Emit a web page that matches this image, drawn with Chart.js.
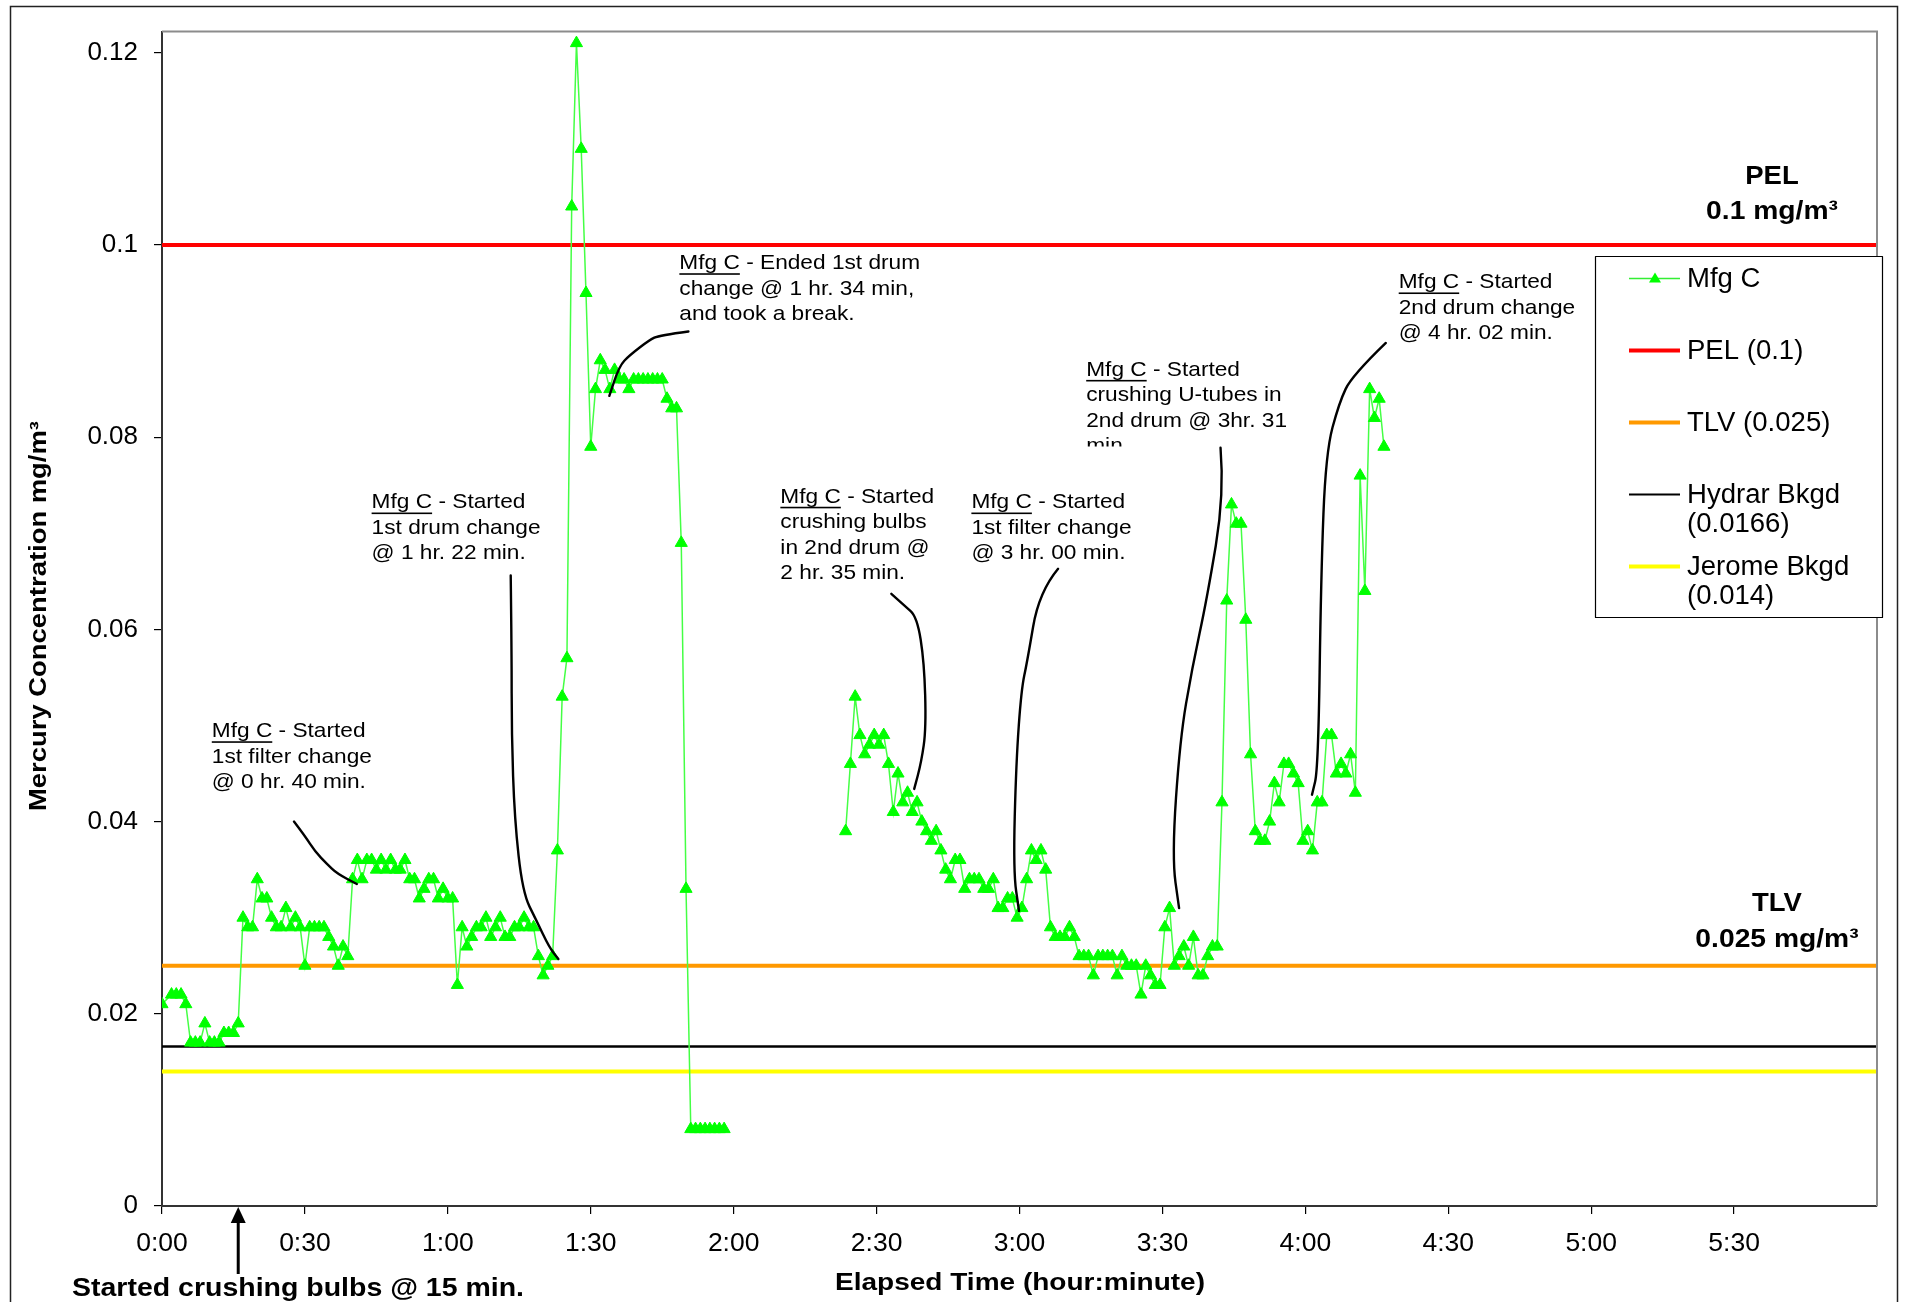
<!DOCTYPE html>
<html>
<head>
<meta charset="utf-8">
<title>Mercury Concentration – Mfg C</title>
<script src="https://cdn.jsdelivr.net/npm/chart.js@4.4.1/dist/chart.umd.min.js"></script>
<style>
  html, body { margin: 0; padding: 0; background: #ffffff; }
  canvas { display: block; }
</style>
</head>
<body>
<canvas id="chart" width="1913" height="1302"></canvas>
<script>
// ---- Data: elapsed time (minutes) and mercury concentration (mg/m3) ----
// First sampling run (0:00 – 1:58)
const run1Minutes = [0,2,3,4,5,6,7,8,9,10,11,12,13,14,15,16,17,18,19,20,
  21,22,23,24,25,26,27,28,29,30,31,32,33,34,35,36,37,38,39,40,
  41,42,43,44,45,46,47,48,49,50,51,52,53,54,55,56,57,58,59,60,
  61,62,63,64,65,66,67,68,69,70,71,72,73,74,75,76,77,78,79,80,
  81,82,83,84,85,86,87,88,89,90,91,92,93,94,95,96,97,98,99,100,
  101,102,103,104,105,106,107,108,109,110,111,112,113,114,115,116,117,118];
const run1Conc = [0.021,0.022,0.022,0.022,0.021,0.017,0.017,0.017,0.019,0.017,0.017,0.017,0.018,0.018,0.018,0.019,0.030,0.029,0.029,0.034,
  0.032,0.032,0.030,0.029,0.029,0.031,0.029,0.030,0.029,0.025,0.029,0.029,0.029,0.029,0.028,0.027,0.025,0.027,0.026,0.034,
  0.036,0.034,0.036,0.036,0.035,0.036,0.035,0.036,0.035,0.035,0.036,0.034,0.034,0.032,0.033,0.034,0.034,0.032,0.033,0.032,
  0.032,0.023,0.029,0.027,0.028,0.029,0.029,0.030,0.028,0.029,0.030,0.028,0.028,0.029,0.029,0.030,0.029,0.029,0.026,0.024,
  0.025,0.026,0.037,0.053,0.057,0.104,0.121,0.110,0.095,0.079,0.085,0.088,0.087,0.085,0.087,0.086,0.086,0.085,0.086,0.086,
  0.086,0.086,0.086,0.086,0.086,0.084,0.083,0.083,0.069,0.033,0.008,0.008,0.008,0.008,0.008,0.008,0.008,0.008];

// Second sampling run (2:23 – 4:16)
const run2Minutes = [143.5,144.5,145.5,146.5,147.5,148.5,149.5,150.5,151.5,152.5,153.5,154.5,155.5,156.5,157.5,158.5,159.5,160.5,161.5,162.5,
  163.5,164.5,165.5,166.5,167.5,168.5,169.5,170.5,171.5,172.5,173.5,174.5,175.5,176.5,177.5,178.5,179.5,180.5,181.5,182.5,
  183.5,184.5,185.5,186.5,187.5,188.5,189.5,190.5,191.5,192.5,193.5,194.5,195.5,196.5,197.5,198.5,199.5,200.5,201.5,202.5,
  203.5,204.5,205.5,206.5,207.5,208.5,209.5,210.5,211.5,212.5,213.5,214.5,215.5,216.5,217.5,218.5,219.5,220.5,221.5,222.5,
  223.5,224.5,225.5,226.5,227.5,228.5,229.5,230.5,231.5,232.5,233.5,234.5,235.5,236.5,237.5,238.5,239.5,240.5,241.5,242.5,
  243.5,244.5,245.5,246.5,247.5,248.5,249.5,250.5,251.5,252.5,253.5,254.5,255.5,256.5];
const run2Conc = [0.039,0.046,0.053,0.049,0.047,0.048,0.049,0.048,0.049,0.046,0.041,0.045,0.042,0.043,0.041,0.042,0.040,0.039,0.038,0.039,
  0.037,0.035,0.034,0.036,0.036,0.033,0.034,0.034,0.034,0.033,0.033,0.034,0.031,0.031,0.032,0.032,0.030,0.031,0.034,0.037,
  0.036,0.037,0.035,0.029,0.028,0.028,0.028,0.029,0.028,0.026,0.026,0.026,0.024,0.026,0.026,0.026,0.026,0.024,0.026,0.025,
  0.025,0.025,0.022,0.025,0.024,0.023,0.023,0.029,0.031,0.025,0.026,0.027,0.025,0.028,0.024,0.024,0.026,0.027,0.027,0.042,
  0.063,0.073,0.071,0.071,0.061,0.047,0.039,0.038,0.038,0.040,0.044,0.042,0.046,0.046,0.045,0.044,0.038,0.039,0.037,0.042,
  0.042,0.049,0.049,0.045,0.046,0.045,0.047,0.043,0.076,0.064,0.085,0.082,0.084,0.079];

// Exposure limits and background levels (mg/m3)
const limitNames  = ['PEL (0.1)', 'TLV (0.025)', 'Hydrar Bkgd (0.0166)', 'Jerome Bkgd (0.014)'];
const limitValues = [0.1, 0.025, 0.0166, 0.014];

// Axis ticks
const xTickMinutes = [0,30,60,90,120,150,180,210,240,270,300,330];
const xTickLabels  = ['0:00','0:30','1:00','1:30','2:00','2:30','3:00','3:30','4:00','4:30','5:00','5:30'];
const yTickValues  = [0,0.02,0.04,0.06,0.08,0.1,0.12];
const yTickLabels  = ['0','0.02','0.04','0.06','0.08','0.1','0.12'];

// Event call-outs: anchor (minutes, mg/m3) of the first text line, text, leader path
const callouts = [
  { at:[10.45,0.0494], head:' - Started', lines:['1st filter change','@ 0 hr. 40 min.'],
    leader:[[27.7,0.0400],[30.0,0.0385],[32.1,0.0369],[34.6,0.0356],[36.7,0.0346],[40.9,0.0335]] },
  { at:[44.0,0.0732], head:' - Started', lines:['1st drum change','@ 1 hr. 22 min.'],
    leader:[[73.2,0.0656],[73.4,0.0576],[73.4,0.0491],[74.0,0.0403],[75.7,0.0326],[78.6,0.0297],[81.3,0.0269],[83.2,0.0257]] },
  { at:[108.6,0.0981], head:' - Ended 1st drum', lines:['change @ 1 hr. 34 min,','and took a break.'],
    leader:[[110.5,0.0910],[104.4,0.0906],[102.3,0.0901],[98.1,0.0885],[96.0,0.0874],[93.9,0.0843]] },
  { at:[129.8,0.0738], head:' - Started', lines:['crushing bulbs','in 2nd drum @','2 hr. 35 min.'],
    leader:[[153.1,0.0637],[155.8,0.0625],[158.5,0.0613],[160.0,0.0566],[160.4,0.0497],[159.4,0.0462],[157.9,0.0434]] },
  { at:[169.9,0.0732], head:' - Started', lines:['1st filter change','@ 3 hr. 00 min.'],
    leader:[[188.1,0.0663],[184.1,0.0639],[181.6,0.0566],[180.4,0.0538],[179.3,0.0462],[178.7,0.0348],[179.9,0.0307]] },
  { at:[194.0,0.0870], head:' - Started', lines:['crushing U-tubes in','2nd drum @ 3hr. 31','min'], clipLast:true,
    leader:[[222.2,0.0789],[223.0,0.0741],[219.4,0.0633],[216.2,0.0559],[213.7,0.0486],[212.0,0.0363],[213.5,0.0310]] },
  { at:[259.6,0.0961], head:' - Started', lines:['2nd drum change','@ 4 hr. 02 min.'],
    leader:[[256.9,0.0898],[249.8,0.0864],[247.1,0.0836],[244.3,0.0784],[243.3,0.0656],[242.7,0.0455],[241.4,0.0428]] }
];
const crushStartMinute = 16;

// ---- Build the series ----
const FONT = '"Liberation Sans", Arial, Helvetica, sans-serif';
const GREEN = '#00ff00';

const mfgPoints = run1Minutes.map((m, i) => ({ x: m, y: run1Conc[i] }))
  .concat([{ x: (run1Minutes[run1Minutes.length - 1] + run2Minutes[0]) / 2, y: null }])
  .concat(run2Minutes.map((m, i) => ({ x: m, y: run2Conc[i] })));

const limitStyles = [
  { color: '#ff0000', width: 4 },
  { color: '#ff9900', width: 4 },
  { color: '#000000', width: 2.5 },
  { color: '#ffff00', width: 4 }
];

const limitDatasets = limitValues.map((v, i) => ({
  label: limitNames[i],
  data: [{ x: 0, y: v }, { x: 360, y: v }],
  borderColor: limitStyles[i].color,
  borderWidth: limitStyles[i].width,
  pointRadius: 0,
  order: 2
}));

// text drawn with a horizontal stretch factor; returns the drawn width
function wideText(ctx, text, x0, y0, sx, align) {
  const w = ctx.measureText(text).width * sx;
  const left = align === 'center' ? x0 - w / 2 : x0;
  ctx.save();
  ctx.textAlign = 'left';
  ctx.translate(left, y0);
  ctx.scale(sx, 1);
  ctx.fillText(text, 0, 0);
  ctx.restore();
  return w;
}

// text squeezed/stretched horizontally to a given width
function fitText(ctx, text, x0, y0, width, align) {
  const m = ctx.measureText(text).width;
  return wideText(ctx, text, x0, y0, width / m, align);
}

// ---- Decorations: frame, reference labels, call-outs, legend, titles ----
const decor = {
  id: 'decor',
  beforeDraw(chart) {
    const { ctx } = chart;
    ctx.save();
    ctx.fillStyle = '#fff';
    ctx.fillRect(0, 0, chart.width, chart.height);
    ctx.restore();
  },
  afterDatasetsDraw(chart) {
    const { ctx, chartArea: a, scales: { x, y } } = chart;
    ctx.save();

    // plot-area frame (top and right)
    ctx.strokeStyle = '#8c8c8c';
    ctx.lineWidth = 2;
    ctx.beginPath();
    ctx.moveTo(a.left, a.top); ctx.lineTo(a.right, a.top); ctx.lineTo(a.right, a.bottom);
    ctx.stroke();

    // outer chart frame
    ctx.strokeStyle = '#222';
    ctx.lineWidth = 1.5;
    ctx.strokeRect(10.5, 6.5, 1887, 1400);

    // PEL / TLV labels
    ctx.fillStyle = '#000';
    ctx.textBaseline = 'middle';
    ctx.font = 'bold 25px ' + FONT;
    const pelY = y.getPixelForValue(limitValues[0]);
    wideText(ctx, 'PEL', 1772, pelY - 68, 1.1, 'center');
    wideText(ctx, '0.1 mg/m\u00B3', 1772, pelY - 33, 1.13, 'center');
    const tlvY = y.getPixelForValue(limitValues[1]);
    wideText(ctx, 'TLV', 1777, tlvY - 62, 1.1, 'center');
    wideText(ctx, '0.025 mg/m\u00B3', 1777, tlvY - 26, 1.13, 'center');

    // call-outs
    ctx.font = '21px ' + FONT;
    const sx = 1.08;
    const lh = 25.5;
    callouts.forEach(c => {
      const tx = x.getPixelForValue(c.at[0]);
      const ty = y.getPixelForValue(c.at[1]);
      ctx.fillStyle = '#000';
      const w = wideText(ctx, 'Mfg C', tx, ty, sx);
      ctx.fillRect(tx, ty + 10, w, 1.6);
      wideText(ctx, c.head, tx + w, ty, sx);
      c.lines.forEach((t, k) => {
        const ly = ty + lh * (k + 1);
        if (c.clipLast && k === c.lines.length - 1) {
          ctx.save();
          ctx.beginPath();
          ctx.rect(tx - 5, ly - 20, 300, 20);
          ctx.clip();
          wideText(ctx, t, tx, ly, sx);
          ctx.restore();
        } else {
          wideText(ctx, t, tx, ly, sx);
        }
      });
      // leader line
      const pts = c.leader.map(p => [x.getPixelForValue(p[0]), y.getPixelForValue(p[1])]);
      ctx.strokeStyle = '#000';
      ctx.lineWidth = 2.4;
      ctx.lineJoin = 'round';
      ctx.lineCap = 'round';
      ctx.beginPath();
      ctx.moveTo(pts[0][0], pts[0][1]);
      for (let i = 1; i < pts.length - 1; i++) {
        const mx = (pts[i][0] + pts[i + 1][0]) / 2, my = (pts[i][1] + pts[i + 1][1]) / 2;
        ctx.quadraticCurveTo(pts[i][0], pts[i][1], mx, my);
      }
      const last = pts[pts.length - 1];
      ctx.lineTo(last[0], last[1]);
      ctx.stroke();
    });

    // legend box
    const lx = 1595.5, ly0 = 256.5;
    ctx.fillStyle = '#fff';
    ctx.fillRect(lx, ly0, 287, 361);
    ctx.strokeStyle = '#000';
    ctx.lineWidth = 1.2;
    ctx.strokeRect(lx, ly0, 287, 361);
    const entries = [
      { lines: ['Mfg C'], color: '#33ee33', width: 1.5, marker: true, y: 22 },
      { lines: [limitNames[0]], color: limitStyles[0].color, width: 4, y: 94 },
      { lines: [limitNames[1]], color: limitStyles[1].color, width: 4, y: 166 },
      { lines: ['Hydrar Bkgd', '(0.0166)'], color: limitStyles[2].color, width: 2, y: 238 },
      { lines: ['Jerome Bkgd', '(0.014)'], color: limitStyles[3].color, width: 4, y: 310 }
    ];
    ctx.font = '27px ' + FONT;
    ctx.textBaseline = 'middle';
    entries.forEach(e => {
      const ey = ly0 + e.y;
      ctx.strokeStyle = e.color;
      ctx.lineWidth = e.width;
      ctx.lineCap = 'butt';
      ctx.beginPath();
      ctx.moveTo(1629, ey); ctx.lineTo(1680, ey);
      ctx.stroke();
      if (e.marker) {
        ctx.fillStyle = GREEN;
        ctx.beginPath();
        ctx.moveTo(1655, ey - 6); ctx.lineTo(1661, ey + 4); ctx.lineTo(1649, ey + 4);
        ctx.closePath(); ctx.fill();
      }
      ctx.fillStyle = '#000';
      e.lines.forEach((t, k) => wideText(ctx, t, 1687, ey + 1 + k * 29, 1.02));
    });

    // crushing-start arrow and note
    const ax = x.getPixelForValue(crushStartMinute);
    ctx.strokeStyle = '#000';
    ctx.fillStyle = '#000';
    ctx.lineWidth = 3;
    ctx.beginPath();
    ctx.moveTo(ax, a.bottom + 68); ctx.lineTo(ax, a.bottom + 8);
    ctx.stroke();
    ctx.beginPath();
    ctx.moveTo(ax, a.bottom + 1); ctx.lineTo(ax - 7.5, a.bottom + 17); ctx.lineTo(ax + 7.5, a.bottom + 17);
    ctx.closePath(); ctx.fill();
    ctx.font = 'bold 26px ' + FONT;
    fitText(ctx, 'Started crushing bulbs @ 15 min.', 72, 1289, 452);

    // axis titles
    ctx.font = 'bold 23px ' + FONT;
    fitText(ctx, 'Elapsed Time (hour:minute)', 1020, 1284, 370, 'center');
    ctx.save();
    ctx.translate(40, 616);
    ctx.rotate(-Math.PI / 2);
    fitText(ctx, 'Mercury Concentration mg/m\u00B3', 0, 0, 390, 'center');
    ctx.restore();

    ctx.restore();
  }
};

new Chart(document.getElementById('chart'), {
  type: 'line',
  data: {
    datasets: [
      {
        label: 'Mfg C',
        data: mfgPoints,
        borderColor: '#44ff44',
        borderWidth: 1.5,
        pointStyle: 'triangle',
        pointRadius: 7,
        pointBackgroundColor: GREEN,
        pointBorderColor: GREEN,
        pointBorderWidth: 1,
        spanGaps: false,
        tension: 0,
        order: 1
      },
      ...limitDatasets
    ]
  },
  options: {
    responsive: false,
    animation: false,
    devicePixelRatio: 1,
    layout: { padding: { left: 0, top: 28, right: 36, bottom: 0 } },
    plugins: { legend: { display: false }, tooltip: { enabled: false } },
    scales: {
      x: {
        type: 'linear', min: 0, max: 360,
        afterBuildTicks: s => { s.ticks = xTickMinutes.map(v => ({ value: v })); },
        afterFit: s => { s.height = 96; },
        ticks: {
          callback: v => xTickLabels[xTickMinutes.indexOf(v)],
          font: { family: FONT, size: 26.5 }, color: '#000', padding: 14,
          maxRotation: 0, autoSkip: false
        },
        grid: { drawOnChartArea: false, drawTicks: true, tickLength: 8, color: '#000', lineWidth: 1.2 },
        border: { display: true, color: '#333', width: 2 }
      },
      y: {
        min: 0, max: 0.1222,
        afterBuildTicks: s => { s.ticks = yTickValues.map(v => ({ value: v })); },
        afterFit: s => { s.width = 162; },
        ticks: {
          callback: v => yTickLabels[yTickValues.indexOf(v)],
          font: { family: FONT, size: 26 }, color: '#000', padding: 16
        },
        grid: { drawOnChartArea: false, drawTicks: true, tickLength: 8, color: '#000', lineWidth: 1.2 },
        border: { display: true, color: '#333', width: 2 }
      }
    }
  },
  plugins: [decor]
});
</script>
</body>
</html>
